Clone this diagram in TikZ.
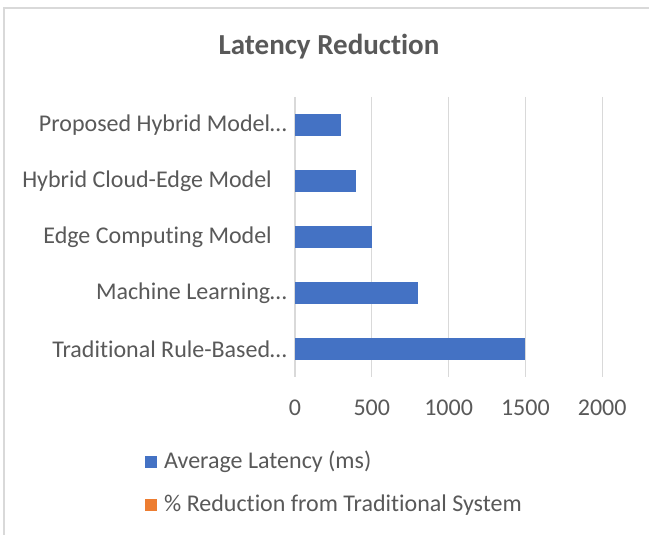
\documentclass[tikz,border=0pt]{standalone}
\usepackage{fontspec}
\setmainfont{Carlito}[Ligatures={NoCommon,NoContextual}]
\definecolor{txtgray}{HTML}{595959}
\definecolor{gridgray}{HTML}{D9D9D9}
\definecolor{barblue}{HTML}{4472C4}
\definecolor{barorange}{HTML}{ED7D31}
\tikzset{
  gridline/.style={draw=gridgray, line width=1.2pt},
  framel/.style={draw=gridgray, line width=1.5pt},
  bar/.style={fill=barblue, draw=none},
  cat/.style={text=txtgray, font=\fontsize{24}{28}\selectfont, inner sep=0pt, anchor=east},
  tick/.style={text=txtgray, font=\fontsize{24}{28}\selectfont, inner sep=0pt, anchor=center},
  legtxt/.style={text=txtgray, font=\fontsize{24}{28}\selectfont, inner sep=0pt, anchor=west},
  legbox/.style={minimum size=12pt, inner sep=0pt, draw=none},
  ttl/.style={text=txtgray, font=\fontsize{29}{34}\selectfont\bfseries, inner sep=0pt}
}
\begin{document}
\begin{tikzpicture}[x=1pt,y=-1pt]
\useasboundingbox (0,0) rectangle (651,535);
\fill[white] (0,0) rectangle (651,535);
% frame (top and left only visible)
\coordinate (fa) at (4,535);
\coordinate (fb) at (4,8);
\coordinate (fc) at (649,8);
\draw[framel] (fa) -- (fb) -- (fc);
% title
\node[ttl] (title) at (329,47) {Latency Reduction};
% gridlines
\foreach \v/\n in {0/g0,500/g1,1000/g2,1500/g3,2000/g4}{
  \coordinate (\n t) at ({295+\v*0.1536},97);
  \coordinate (\n b) at ({295+\v*0.1536},377);
  \draw[gridline] (\n t) -- (\n b);
  \node[tick] (\n l) at ({295+\v*0.1536},408) {\v};
}
% bars
\foreach \val/\yc/\n in {300/125/b1,400/181/b2,500/237/b3,800/293/b4,1500/349/b5}{
  \fill[bar] (295,\yc-11) rectangle ({295+\val*0.1536},\yc+11);
  \coordinate (\n) at (295,\yc);
}
% category labels
\node[cat] (c1) at (287,125) {Proposed Hybrid Model…};
\node[cat] (c2) at (272,181) {Hybrid Cloud-Edge Model};
\node[cat] (c3) at (272,237) {Edge Computing Model};
\node[cat] (c4) at (287,293) {Machine Learning…};
\node[cat] (c5) at (287,349) {Traditional Rule-Based…};
% legend
\node[legbox, fill=barblue] (lb1) at (151,462) {};
\node[legtxt] (lt1) at (164,462) {Average Latency (ms)};
\node[legbox, fill=barorange] (lb2) at (151,505) {};
\node[legtxt] (lt2) at (164,505) {\% Reduction from Traditional System};
\end{tikzpicture}
\end{document}
